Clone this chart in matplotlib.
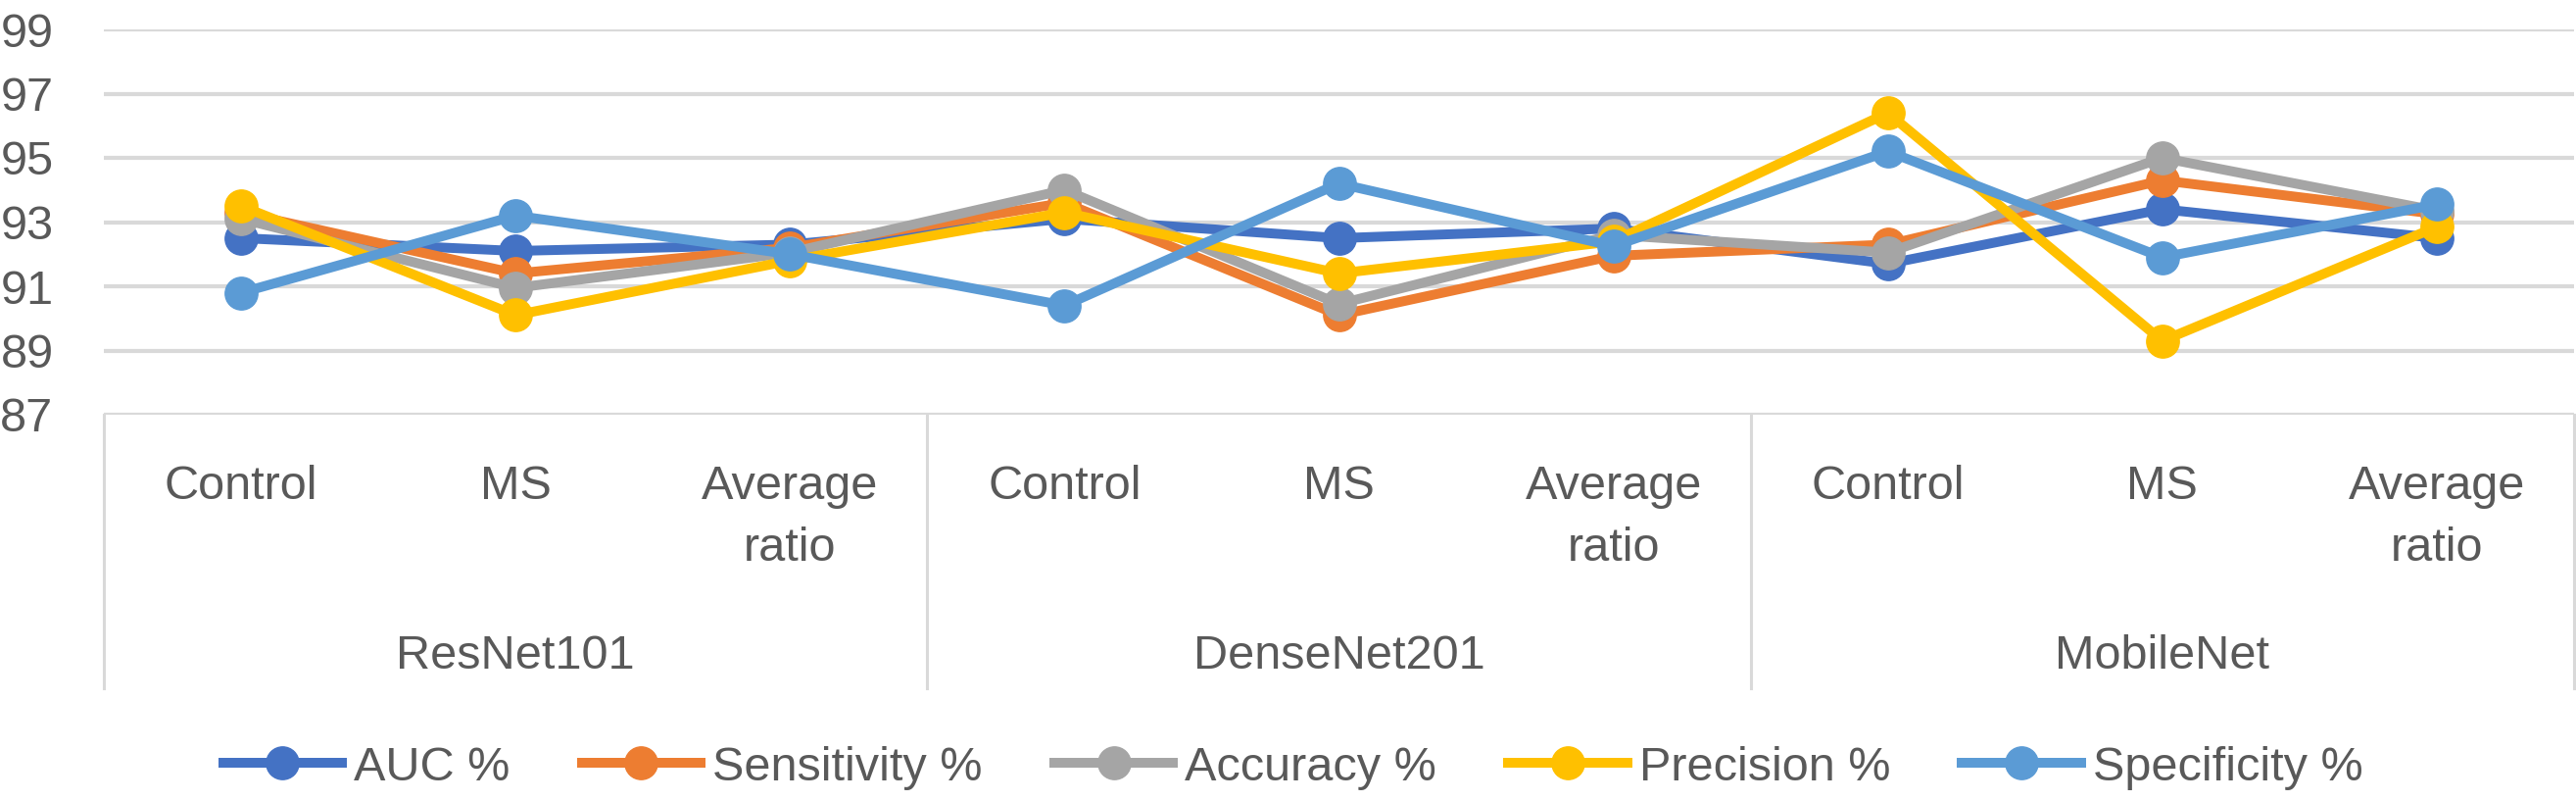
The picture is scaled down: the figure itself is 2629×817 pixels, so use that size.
import matplotlib
matplotlib.use('Agg')
import matplotlib.pyplot as plt
import matplotlib.transforms as mtransforms
from matplotlib.lines import Line2D

# data
models = ['ResNet101', 'DenseNet201', 'MobileNet']
groups = ['Control', 'MS', 'Average\nratio']
series_names = ['AUC %', 'Sensitivity %', 'Accuracy %', 'Precision %', 'Specificity %']
auc = [92.5, 92.1, 92.3, 93.1, 92.5, 92.8, 91.7, 93.4, 92.5]
sensitivity = [93.3, 91.4, 92.2, 93.6, 90.1, 91.95, 92.3, 94.3, 93.25]
accuracy = [93.1, 90.95, 92.05, 94.0, 90.45, 92.6, 92.05, 95.0, 93.35]
precision = [93.5, 90.1, 91.8, 93.3, 91.4, 92.4, 96.4, 89.3, 92.85]
specificity = [90.8, 93.2, 92.0, 90.4, 94.2, 92.25, 95.2, 91.9, 93.55]
yticks = [87, 89, 91, 93, 95, 97, 99]

colors = ['#4472C4', '#ED7D31', '#A5A5A5', '#FFC000', '#5B9BD5']
txt_col = '#595959'
grid_col = '#D9D9D9'

plt.rcParams['font.family'] = ['Liberation Sans', 'DejaVu Sans']
fs = 35

W, H = 2629, 817
fig = plt.figure(figsize=(W / 100, H / 100), dpi=100)
ax = fig.add_axes([106 / W, 1 - 423 / H, (2627 - 106) / W, (423 - 30) / H])

x = list(range(9))
all_series = [auc, sensitivity, accuracy, precision, specificity]
for vals, c, name in zip(all_series, colors, series_names):
    ax.plot(x, vals, color=c, lw=7.2, marker='o', ms=24, label=name,
            solid_joinstyle='round', clip_on=False)

ax.set_xlim(-0.5, 8.5)
ax.set_ylim(87, 99)
ax.set_yticks(yticks)
ax.set_yticklabels([str(t) for t in yticks], fontsize=fs, color=txt_col)
ax.tick_params(axis='y', length=0, pad=37)
ax.set_xticks([])
ax.yaxis.grid(True, color=grid_col, lw=3)
ax.set_axisbelow(True)
for s in ax.spines.values():
    s.set_visible(False)

# category axis below the plot
trans = mtransforms.blended_transform_factory(ax.transData, ax.transAxes)
frac = lambda py: (423 - py) / (423 - 30)
for i in range(9):
    ax.text(x[i], frac(474), groups[i % 3], transform=trans, ha='center',
            va='top', fontsize=fs, color=txt_col, linespacing=1.5)
for j, m in enumerate(models):
    ax.text(3 * j + 1, frac(682), m, transform=trans, ha='center',
            va='baseline', fontsize=fs, color=txt_col)
for b in [-0.5, 2.5, 5.5, 8.5]:
    ax.plot([b, b], [0, frac(702)], transform=trans, color=grid_col, lw=2.2,
            clip_on=False)

handles = [Line2D([], [], color=c, lw=7.2, marker='o', ms=24) for c in colors]
fig.legend(handles, series_names, loc='center', bbox_to_anchor=(0.502, 1 - 783 / H),
           ncol=5, frameon=False, fontsize=fs, labelcolor=txt_col,
           handlelength=2.5, handletextpad=0.25, columnspacing=1.5)

fig.savefig('out.png', dpi=100)
